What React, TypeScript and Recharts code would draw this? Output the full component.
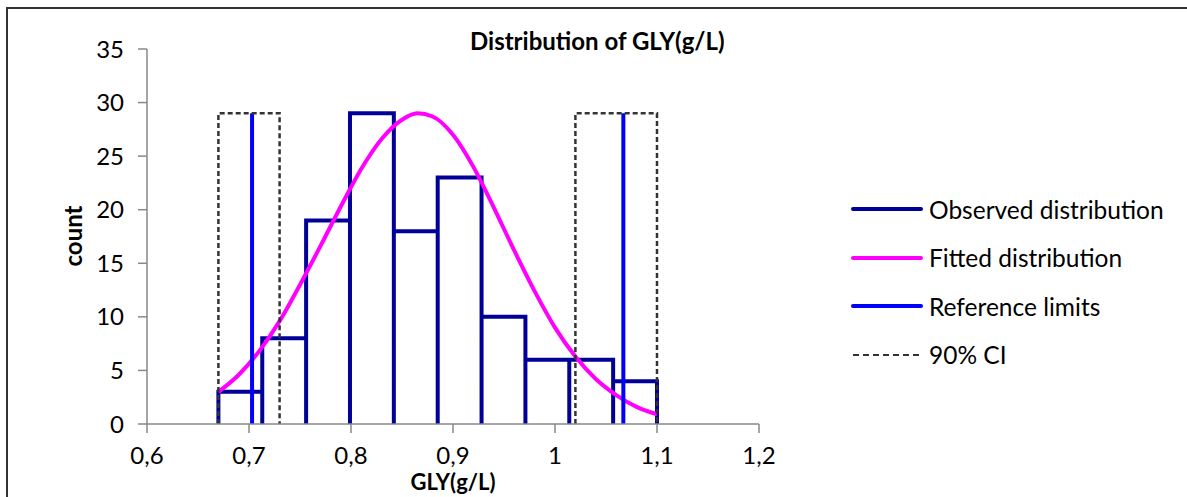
import { ComposedChart, Line, XAxis, YAxis } from "recharts";

// histogram bins (edges) and counts
const binEdges = [0.67, 0.713, 0.756, 0.799, 0.842, 0.885, 0.928, 0.971, 1.014, 1.057, 1.1];
const binCounts = [3, 8, 19, 29, 18, 23, 10, 6, 6, 4];

// fitted curve
const fitX = [0.67, 0.69, 0.71, 0.73, 0.75, 0.77, 0.79, 0.81, 0.83, 0.85, 0.865, 0.88, 0.9, 0.92, 0.94, 0.96, 0.98, 1.0, 1.02, 1.04, 1.06, 1.08, 1.1];
const fitY = [3.0, 4.6, 6.8, 9.6, 13.0, 16.6, 20.3, 23.8, 26.6, 28.4, 29.0, 28.7, 27.0, 24.0, 20.2, 16.2, 12.4, 9.0, 6.3, 4.2, 2.7, 1.6, 0.9];

const refLimits = [0.703, 1.067];
const refHeight = 29;

const ciLower = [0.67, 0.73];
const ciUpper = [1.02, 1.1];
const ciHeight = 29;

const xTicks = [0.6, 0.7, 0.8, 0.9, 1.0, 1.1, 1.2];
const yTicks = [0, 5, 10, 15, 20, 25, 30, 35];

const legendItems = [
  { label: "Observed distribution", color: "#000099", dashed: false },
  { label: "Fitted distribution", color: "#FF00FF", dashed: false },
  { label: "Reference limits", color: "#0000FF", dashed: false },
  { label: "90% CI", color: "#333333", dashed: true },
];

const histData = binCounts.flatMap((c, i) => [
  { x: binEdges[i], y: 0 },
  { x: binEdges[i], y: c },
  { x: binEdges[i + 1], y: c },
  { x: binEdges[i + 1], y: 0 },
]);

const fitData = fitX.map((x, i) => ({ x, y: fitY[i] }));

const boxData = (r: number[]) => [
  { x: r[0], y: 0 },
  { x: r[0], y: ciHeight },
  { x: r[1], y: ciHeight },
  { x: r[1], y: 0 },
];

const font = "Lato, 'Noto Sans', sans-serif";
const tickStyle = { fill: "#000", fontSize: 24, fontFamily: font };

export default function App() {
  return (
    <div style={{ position: "fixed", left: 0, top: 0, width: 1187, height: 497, background: "#fff", overflow: "hidden", fontFamily: font }}>
      <div style={{ position: "absolute", left: 6, top: 7, width: 1300, height: 600, borderLeft: "2px solid #333", borderTop: "2px solid #333" }} />
      <ComposedChart width={1187} height={497} margin={{ top: 49, right: 428, left: 87, bottom: 33 }}>
        <XAxis
          type="number"
          dataKey="x"
          domain={[0.6, 1.2]}
          ticks={xTicks}
          allowDataOverflow
          height={40}
          stroke="#888"
          strokeWidth={1.5}
          tickSize={9}
          tickMargin={14}
          tick={tickStyle}
          tickFormatter={(v: number) => String(Math.round(v * 10) / 10).replace(".", ",")}
        />
        <YAxis
          type="number"
          dataKey="y"
          domain={[0, 35]}
          ticks={yTicks}
          width={60}
          stroke="#888"
          strokeWidth={1.5}
          tickSize={9}
          tickMargin={14}
          tick={tickStyle}
        />
        <Line data={histData} dataKey="y" type="linear" stroke="#000099" strokeWidth={4} dot={false} isAnimationActive={false} />
        <Line data={fitData} dataKey="y" type="monotone" stroke="#FF00FF" strokeWidth={4} dot={false} isAnimationActive={false} />
        {refLimits.map((r, i) => (
          <Line
            key={"ref" + i}
            data={[{ x: r, y: 0 }, { x: r, y: refHeight }]}
            dataKey="y"
            type="linear"
            stroke="#0000FF"
            strokeWidth={4}
            dot={false}
            isAnimationActive={false}
          />
        ))}
        {[ciLower, ciUpper].map((r, i) => (
          <Line
            key={"ci" + i}
            data={boxData(r)}
            dataKey="y"
            type="linear"
            stroke="#333333"
            strokeWidth={2.5}
            strokeDasharray="5 3"
            dot={false}
            isAnimationActive={false}
          />
        ))}
      </ComposedChart>

      <div style={{ position: "absolute", left: 470, top: 26, fontSize: 24, fontWeight: 700, whiteSpace: "nowrap" }}>
        Distribution of GLY(g/L)
      </div>
      <div style={{ position: "absolute", left: 72, top: 236, transform: "translate(-50%, -50%) rotate(-90deg)", fontSize: 24, fontWeight: 700 }}>
        count
      </div>
      <div style={{ position: "absolute", left: 453, top: 482, transform: "translate(-50%, -50%)", fontSize: 22, lineHeight: "22px", fontWeight: 700, whiteSpace: "nowrap" }}>
        GLY(g/L)
      </div>

      {legendItems.map((it, i) => (
        <div key={it.label} style={{ position: "absolute", left: 851, top: 209 + i * 48.5 - 16, height: 32, display: "flex", alignItems: "center", whiteSpace: "nowrap" }}>
          <svg width={72} height={8} style={{ marginRight: 6 }}>
            <line
              x1={2}
              y1={4}
              x2={70}
              y2={4}
              stroke={it.color}
              strokeWidth={it.dashed ? 2 : 4}
              strokeLinecap={it.dashed ? "butt" : "round"}
              strokeDasharray={it.dashed ? "6 4" : undefined}
            />
          </svg>
          <span style={{ fontSize: 24.5 }}>{it.label}</span>
        </div>
      ))}
    </div>
  );
}
